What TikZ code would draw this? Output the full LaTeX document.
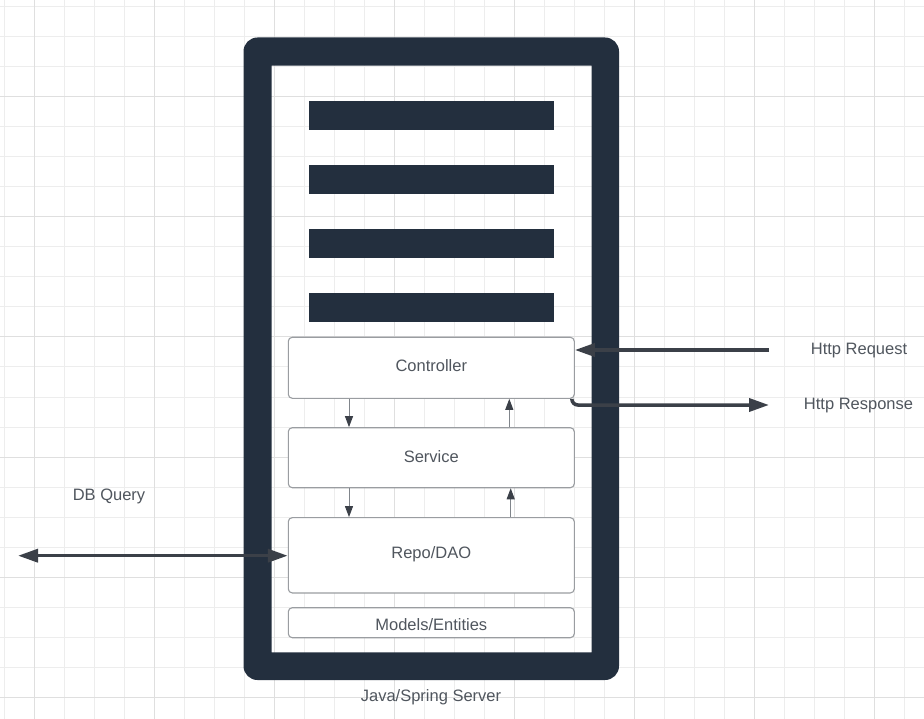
\documentclass[tikz,border=0pt]{standalone}
\usepackage{fontspec}
\setmainfont{Liberation Sans}
\usetikzlibrary{arrows.meta}
\definecolor{navy}{HTML}{232F3E}
\definecolor{arr}{HTML}{3B4048}
\definecolor{txt}{HTML}{50565E}
\definecolor{boxline}{HTML}{9A9DA1}
\definecolor{thinline}{HTML}{80858B}
\definecolor{gridminor}{HTML}{EDEDED}
\definecolor{gridmajor}{HTML}{DFDFDF}
\tikzset{
  layer/.style={draw=boxline, line width=1.1pt, fill=white, rounded corners=4pt,
    minimum width=286pt, inner sep=0pt},
  lbl/.style={font=\fontsize{16.5}{19}\selectfont, text=txt, inner sep=0pt},
  smallarr/.style={draw=thinline, line width=1pt, -{Triangle[length=11pt,width=8pt,color=arr]}},
  bigarr/.style={draw=arr, line width=3.5pt, -{Triangle[length=20pt,width=13pt]}},
  bar/.style={fill=navy}
}
\begin{document}
\begin{tikzpicture}[x=1pt,y=-1pt]
\useasboundingbox (0,0) rectangle (924,719);
\fill[white] (0,0) rectangle (924,719);
% grid
\foreach \i in {0,...,30} \draw[gridminor, line width=1pt] (4+30*\i,0) -- (4+30*\i,719);
\foreach \j in {0,...,23} \draw[gridminor, line width=1pt] (0,7+30*\j) -- (924,7+30*\j);
\foreach \i in {0,...,7} \draw[gridmajor, line width=1pt] (34+120*\i,0) -- (34+120*\i,719);
\foreach \j in {0,...,5} \draw[gridmajor, line width=1pt] (0,97+120*\j) -- (924,97+120*\j);
% server frame
\fill[navy, even odd rule, rounded corners=14pt] (243.5,37.5) rectangle (619,680)
  [sharp corners] (271.7,65.7) rectangle (591.7,652.3);
% bars
\foreach \y in {101,165,229,293} \fill[bar] (309,\y) rectangle (554,\y+29);
% layers
\node[layer, minimum height=61pt] (ctrl) at (431.3,367.8) {};
\node[layer, minimum height=60pt] (svc) at (431.3,457.7) {};
\node[layer, minimum height=75.3pt] (repo) at (431.3,555.3) {};
\node[layer, minimum height=30pt] (models) at (431.3,622.7) {};
\node[lbl] (ctrltxt) at ([yshift=2pt]ctrl.center) {Controller};
\node[lbl] (svctxt) at ([yshift=1.5pt]svc.center) {Service};
\node[lbl] (repotxt) at ([yshift=1pt]repo.center) {Repo/DAO};
\node[lbl] (modelstxt) at ([yshift=-2pt]models.center) {Models/Entities};
% inner arrows
\draw[smallarr] ([xshift=-82.3pt]ctrl.south) -- ([xshift=-82.3pt]svc.north);
\draw[smallarr] ([xshift=78pt]svc.north) -- ([xshift=78pt]ctrl.south);
\draw[smallarr] ([xshift=-82.3pt]svc.south) -- ([xshift=-82.3pt]repo.north);
\draw[smallarr] ([xshift=79.4pt]repo.north) -- ([xshift=79.4pt]svc.south);
% external connectors
\coordinate (reqstart) at (769,350);
\coordinate (resend) at (769,405);
\coordinate (dbend) at (18,555.7);
\draw[bigarr] (reqstart) -- (ctrl.east |- reqstart);
\draw[bigarr, rounded corners=6pt] ([xshift=-3pt]ctrl.south east) |- (resend);
\draw[draw=arr, line width=3.5pt, {Triangle[length=20pt,width=13pt]}-{Triangle[length=20pt,width=13pt]}] (dbend) -- (repo.west |- dbend);
% labels
\node[lbl] (reqlbl) at (859,350.5) {Http Request};
\node[lbl] (reslbl) at (858.5,405.5) {Http Response};
\node[lbl] (dblbl) at (109,496.5) {DB Query};
\node[lbl] (srvlbl) at (431,697) {Java/Spring Server};
\end{tikzpicture}
\end{document}
